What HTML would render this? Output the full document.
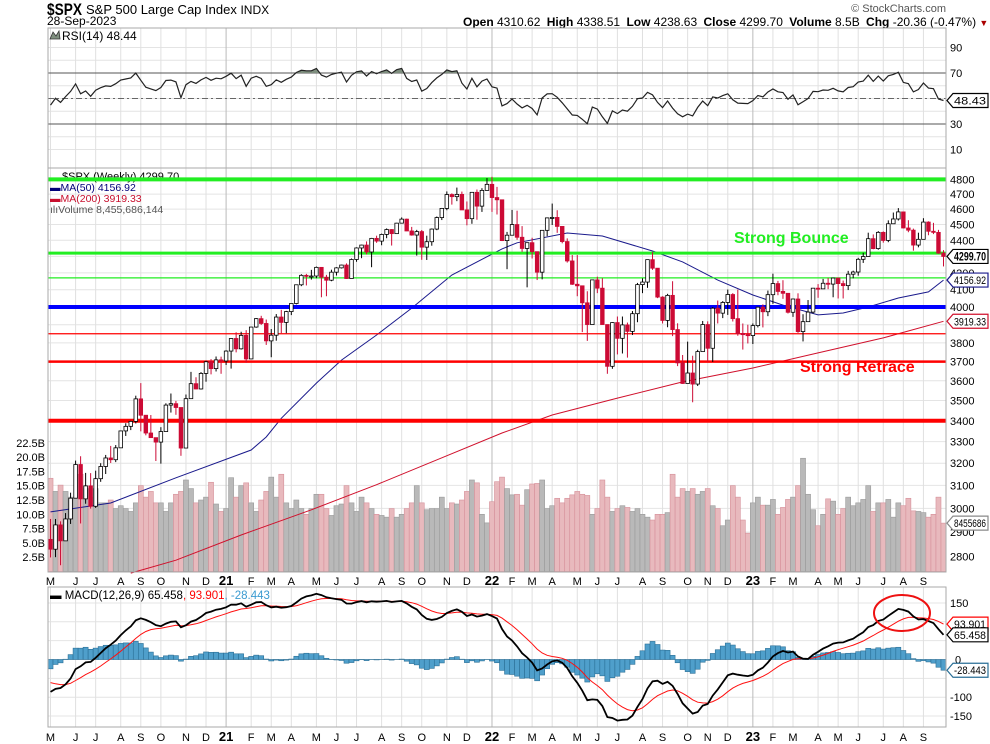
<!DOCTYPE html>
<html><head><meta charset="utf-8">
<style>
html,body{margin:0;padding:0;background:#fff;}
svg{display:block;font-family:"Liberation Sans",sans-serif;}
</style></head>
<body>
<svg id="chart" width="990" height="744" viewBox="0 0 990 744" xmlns="http://www.w3.org/2000/svg">
<rect x="0" y="0" width="990" height="744" fill="#fff"/>
<g>
<text x="47" y="15" font-size="17" font-weight="bold" textLength="35" lengthAdjust="spacingAndGlyphs">$SPX</text>
<text x="86" y="14" font-size="13">S&amp;P 500 Large Cap Index <tspan font-size="12">INDX</tspan></text>
<text x="47" y="25" font-size="12">28-Sep-2023</text>
<text x="946" y="12" font-size="11" fill="#555" text-anchor="end">© StockCharts.com</text>
<text x="463" y="26" font-size="12"><tspan font-weight="bold">Open</tspan> 4310.62 <tspan font-weight="bold" dx="3">High</tspan> 4338.51 <tspan font-weight="bold" dx="3">Low</tspan> 4238.63 <tspan font-weight="bold" dx="3">Close</tspan> 4299.70 <tspan font-weight="bold" dx="3">Volume</tspan> 8.5B <tspan font-weight="bold" dx="3">Chg</tspan> -20.36 (-0.47%) <tspan fill="#a00" font-size="9">▼</tspan></text>
</g>
<g id="grid"></g>
<g id="rsi"></g>
<g id="price"></g>
<g id="macd"></g>
<g id="axes"></g>
</svg>
<script>
const opens0 = [2870];
const closes = [2830,2930,2864,2955,3044,3194,3041,3098,3009,3130,3185,3224,3216,3271,3351,3373,3397,3508,3427,3341,3319,3298,3348,3477,3484,3465,3270,3509,3585,3558,3638,3699,3663,3709,3703,3756,
3824,3768,3841,3714,3887,3934,3907,3811,3842,3943,3913,3974,4020,4129,4185,4180,4181,4233,4174,4156,4204,4230,4247,4166,4281,4352,4370,4327,4412,4395,4437,4468,4442,4509,4535,4459,4433,4455,4357,4391,4471,4545,4605,4697,4683,4698,4595,4538,4712,4620,4725,4766,
4677,4662,4398,4432,4500,4419,4349,4385,4329,4204,4463,4543,4546,4488,4392,4272,4132,4123,4024,3901,4158,4109,3901,3675,3912,3825,3899,3863,3962,4130,4145,4280,4228,4057,3924,4067,3873,3693,3586,3640,3583,3753,3901,3771,3993,3965,4026,4072,3934,3852,3845,3840,
3895,3999,3973,4071,4136,4090,4079,3970,4046,3862,3917,3971,4109,4105,4138,4133,4169,4136,4124,4192,4205,4282,4299,4410,4348,4450,4399,4505,4536,4582,4478,4464,4370,4406,4516,4457,4450,4320,4299.7];
const highs = [2955,2955,2945,2980,3068,3212,3232,3156,3155,3166,3200,3238,3280,3284,3352,3388,3400,3524,3588,3425,3428,3314,3369,3486,3535,3498,3342,3530,3646,3618,3645,3705,3713,3727,3726,3760,
3826,3858,3861,3870,3888,3937,3950,3929,3876,3960,3984,3978,4020,4130,4192,4194,4218,4238,4204,4188,4219,4234,4249,4257,4287,4356,4372,4393,4415,4429,4442,4475,4470,4511,4546,4538,4485,4466,4465,4429,4475,4552,4608,4718,4705,4744,4717,4651,4713,4731,4740,4809,
4818,4749,4614,4453,4595,4590,4490,4385,4416,4299,4465,4546,4637,4593,4471,4412,4308,4308,4122,4091,4159,4177,4168,3838,3914,3946,3946,3912,3977,4140,4167,4281,4326,4218,4062,4076,4150,3908,3735,3807,3731,3763,3921,3919,4000,4037,4034,4101,4080,4101,3907,3900,
3907,4001,4015,4095,4195,4152,4156,4049,4048,4079,3959,4040,4110,4133,4164,4170,4170,4150,4154,4212,4213,4291,4322,4448,4437,4458,4456,4527,4578,4607,4584,4528,4474,4448,4541,4521,4511,4466,4338.51];
const lows = [2797,2798,2766,2902,2934,3044,2936,3020,2999,3002,3116,3151,3201,3205,3279,3327,3355,3387,3349,3330,3323,3210,3198,3355,3440,3429,3234,3279,3538,3556,3555,3595,3633,3648,3636,3682,
3663,3749,3764,3694,3725,3883,3899,3789,3723,3812,3853,3853,3954,4015,4121,4125,4160,4168,4056,4062,4150,4184,4226,4164,4175,4267,4289,4312,4234,4384,4369,4413,4367,4440,4513,4458,4429,4305,4279,4278,4366,4464,4529,4593,4630,4653,4595,4495,4505,4531,4582,4728,
4582,4565,4395,4222,4433,4403,4328,4114,4287,4157,4161,4426,4497,4447,4381,4262,4128,4062,3859,3811,3903,4080,3900,3636,3662,3738,3743,3721,3843,3914,4080,4111,4218,4051,3907,3886,3837,3676,3584,3600,3491,3573,3759,3699,3698,3907,3937,3955,3918,3839,3764,3797,
3794,3885,3885,3948,4018,4068,4047,3963,3944,3855,3808,3918,3963,4053,4106,4103,4056,4049,4049,4098,4167,4183,4260,4297,4344,4341,4385,4388,4513,4526,4475,4451,4335,4356,4433,4432,4439,4316,4238.63];
const volumes = [16.3,14,15.1,14,13,12.8,17,14.5,13,14.5,12,12,12.5,11,11.5,11,10.5,12,15,13,14,12,12,10.5,12,13.5,14,16,14.5,12,12.5,13,15.6,11.8,10.5,11,
16.4,13,15,15.5,12,10.5,12.5,14,16.5,13,17,12,11,12.5,11,10,11,13.5,13.5,11,9.8,11.5,11.8,15,12,10.5,13,12,11,10,9.8,9.5,11,9.5,10,11,12,15,12,10.8,11,11,13,11,12,11.8,12.5,14,16,15.5,10,8.5,
12.2,15.7,16.5,14.5,13.4,13.5,11.6,14.3,15.3,15.4,16,11,11.5,12.8,12,12.8,13.4,14,13.5,13.3,10,11,16,13,10.5,11,11.5,11.2,10.5,11,10,9.5,9,10,10,10.3,17,13,14.5,14,14.5,13.5,14,14.5,11.5,11,8,9,15,13,9,6.7,
12,13,11.6,11.6,12.6,10,11.2,12.6,13,15,19.8,13.5,10.8,8,10,12.7,12.3,10,11,13,11.5,12,12.6,15,10.5,12,12,12.6,9.5,12,11.5,12.8,10.6,10.5,10.3,9.5,10,13,8.46];
const ma50Weeks = [0,12,25,40,43,46,53,58,65,72,80,90,93,103,110,120,126,133,140,146,153,158,163,169,175,178];
const ma50Values = [2985,3023,3134,3261,3322,3412,3588,3708,3843,3994,4187,4346,4384,4446,4427,4333,4266,4157,4069,4011,3955,3966,4000,4052,4087,4156.92];
const ma200Weeks = [16,25,38,52,65,78,90,100,113,126,140,153,166,178];
const ma200Values = [2735,2786,2888,2994,3103,3225,3341,3428,3512,3594,3666,3746,3827,3919.33];
const levelPrices = [4800,4320,4170,4000,3850,3700,3400];
const levelColors = ['#22ee22','#22ee22','#22ee22','#0000ff','#ff0000','#ff0000','#ff0000'];
const levelWidths = [4,3,1.2,4,1.2,2.5,4];
const priceTicks = [2800,2900,3000,3100,3200,3300,3400,3500,3600,3700,3800,4000,4100,4200,4400,4500,4600,4700,4800];
const volTicks = [2.5,5,7.5,10,12.5,15,17.5,20,22.5];
const volTickLabels = ['2.5B','5.0B','7.5B','10.0B','12.5B','15.0B','17.5B','20.0B','22.5B'];
const rsiTicks = [90,70,30,10];
const macdTicks = [150,100,0,-100,-150];

const NS='http://www.w3.org/2000/svg';
const L=48,R=946,N=closes.length,W=(R-L)/N;
const X=i=>L+(i+0.5)*W;
const PY=p=>307-700*Math.log(p/4000);
const VY=v=>571.5-v*5.72;
const RY=v=>124-(v-30)*1.275;
const MY=v=>659.5-v*0.377;
function el(parent,tag,attrs,text){const e=document.createElementNS(NS,tag);for(const k in attrs)e.setAttribute(k,attrs[k]);if(text!==undefined)e.textContent=text;parent.appendChild(e);return e;}
const gGrid=document.getElementById('grid'),gRsi=document.getElementById('rsi'),gPrice=document.getElementById('price'),gMacd=document.getElementById('macd'),gAx=document.getElementById('axes');
const opens=closes.map((c,i)=>i===0?opens0[0]:closes[i-1]);

const panels=[[28,168],[168,572],[587,727]];
const months=[];let prevM=-1;
for(let i=0;i<N;i++){const d=new Date(2020,4,1+7*i);const m=d.getMonth();if(m!==prevM){months.push({i:i,m:m,y:d.getFullYear()});prevM=m;}}
const MN='JFMAMJJASOND';
for(let v=10;v<=90;v+=10){const g=el(gGrid,'line',{x1:L,x2:R,y1:RY(v),y2:RY(v),stroke:'#e4e4e4'});}
for(let p=2800;p<=4800;p+=100){const g=el(gGrid,'line',{x1:L,x2:R,y1:PY(p),y2:PY(p),stroke:'#e4e4e4'});}
for(let v=-150;v<=150;v+=50){const g=el(gGrid,'line',{x1:L,x2:R,y1:MY(v),y2:MY(v),stroke:'#e4e4e4'});}
months.forEach(o=>{const x=X(o.i);const yr=o.m===0;panels.forEach(p=>{const g=el(gGrid,'line',{x1:x,x2:x,y1:p[0],y2:p[1],stroke:yr?'#bbbbbb':'#e0e0e0'});});
 [585,741].forEach(y=>{const t=el(gAx,'text',{x:x,y:y,'font-size':yr?13:11,'font-weight':yr?'bold':'normal','text-anchor':'middle'},yr?String(o.y).slice(2):MN[o.m]);});});

let ag=35,al=40;const rsi=[];
for(let i=0;i<N;i++){const ch=i===0?closes[0]-2870:closes[i]-closes[i-1];ag=(ag*13+Math.max(ch,0))/14;al=(al*13+Math.max(-ch,0))/14;rsi.push(100-100/(1+ag/al));}
[[70,'#555','none'],[30,'#555','none'],[50,'#666','6,3,2,3']].forEach(a=>{const g=el(gRsi,'line',{x1:L,x2:R,y1:RY(a[0]),y2:RY(a[0]),stroke:a[1],'stroke-dasharray':a[2]});});
const rpts=rsi.map((v,i)=>X(i)+','+RY(v).toFixed(1)).join(' ');
const cp=el(gRsi,'clipPath',{id:'ob'});
el(cp,'rect',{x:L,y:28,width:R-L,height:RY(70)-28});
const rf=el(gRsi,'polygon',{points:X(0)+','+RY(70)+' '+rpts+' '+X(N-1)+','+RY(70),fill:'#7f8f7f','clip-path':'url(#ob)'});

const rl=el(gRsi,'polyline',{points:rpts,fill:'none',stroke:'#222','stroke-width':1.2});

const rt=el(gRsi,'text',{x:62,y:40,'font-size':12},'RSI(14) '+rsi[N-1].toFixed(2));

el(gRsi,'path',{d:'M50 39 L53 32 L56 36 L59 31 L60 39 Z',fill:'#7f8f7f',stroke:'#333','stroke-width':0.8});

for(let i=0;i<N;i++){const up=i===0?false:closes[i]>=closes[i-1];const b=el(gPrice,'rect',{x:L+i*W,y:VY(volumes[i]),width:W,height:571.5-VY(volumes[i]),fill:up?'#b9b9b9':'#e8b9bd',stroke:up?'#9a9a9a':'#d6909a','stroke-width':0.6});
}
const m2=el(gPrice,'polyline',{points:ma200Weeks.map((w,k)=>X(w)+','+PY(ma200Values[k]).toFixed(1)).join(' '),fill:'none',stroke:'#d0102c','stroke-width':1});

const m5=el(gPrice,'polyline',{points:ma50Weeks.map((w,k)=>X(w)+','+PY(ma50Values[k]).toFixed(1)).join(' '),fill:'none',stroke:'#1a1a8c','stroke-width':1});

const lg=el(gPrice,'text',{x:62,y:180,'font-size':11},'$SPX (Weekly) 4299.70');
const l1=el(gPrice,'text',{x:50,y:191,'font-size':10.5,fill:'#00007a'},'▬MA(50) 4156.92');
const l2=el(gPrice,'text',{x:50,y:202,'font-size':10.5,fill:'#c8102e'},'▬MA(200) 3919.33');
const l3=el(gPrice,'text',{x:50,y:213,'font-size':10.5,fill:'#555'},'ılıVolume 8,455,686,144');
levelPrices.forEach((p,k)=>{const ln=el(gPrice,'line',{x1:L,x2:R,y1:PY(p),y2:PY(p),stroke:levelColors[k],'stroke-width':levelWidths[k]});});
for(let i=0;i<N;i++){const o=opens[i],c=closes[i],x=X(i);const up=c>=o;const col=up?'#000':'#cc0a35';
 const wk=el(gPrice,'line',{x1:x,x2:x,y1:PY(highs[i]),y2:PY(lows[i]),stroke:col,'stroke-width':1});
 const top=PY(Math.max(o,c)),bot=PY(Math.min(o,c));
 const bd=el(gPrice,'rect',{x:x-1.8,y:top,width:3.6,height:Math.max(bot-top,1),fill:up?'#fff':'#cc0a35',stroke:col,'stroke-width':0.8});}
const sb=el(gPrice,'text',{x:734,y:243,'font-size':16,'font-weight':'bold',fill:'#22ee22'},'Strong Bounce');
const sr=el(gPrice,'text',{x:800,y:372,'font-size':16,'font-weight':'bold',fill:'#ff0000'},'Strong Retrace');

let e12=2920,e26=3005,sig=-55;const macd=[],sg=[],hist=[];
for(let i=0;i<N;i++){e12+=2/13*(closes[i]-e12);e26+=2/27*(closes[i]-e26);const m=e12-e26;sig+=0.2*(m-sig);macd.push(m);sg.push(sig);hist.push(m-sig);}
for(let i=0;i<N;i++){const y0=MY(0),y1=MY(hist[i]);const h=el(gMacd,'rect',{x:L+i*W,y:Math.min(y0,y1),width:W,height:Math.abs(y1-y0),fill:'#4f9fcb',stroke:'#2a6f96','stroke-width':0.6});}
const ms=el(gMacd,'polyline',{points:sg.map((v,i)=>X(i)+','+MY(v).toFixed(1)).join(' '),fill:'none',stroke:'#ff1010','stroke-width':1});
const ml=el(gMacd,'polyline',{points:macd.map((v,i)=>X(i)+','+MY(v).toFixed(1)).join(' '),fill:'none',stroke:'#000','stroke-width':1.8});
const mt=el(gMacd,'text',{x:50,y:599,'font-size':11.5},'');
mt.innerHTML='<tspan font-weight="bold">▬</tspan> MACD(12,26,9) 65.458<tspan fill="#ff0000">, 93.901</tspan><tspan fill="#3a9ad0">, -28.443</tspan>';
const ce=el(gMacd,'ellipse',{cx:902,cy:613,rx:28,ry:18,fill:'none',stroke:'#ee1111','stroke-width':2});

panels.forEach(p=>{const b=el(gAx,'rect',{x:L,y:p[0],width:R-L,height:p[1]-p[0],fill:'none',stroke:'#aaa'});});
rsiTicks.forEach(v=>{const t=el(gAx,'text',{x:950,y:RY(v)+4,'font-size':11},v);});
priceTicks.forEach(p=>{const t=el(gAx,'text',{x:950,y:PY(p)+4,'font-size':11},p);});
volTicks.forEach((v,k)=>{const t=el(gAx,'text',{x:45,y:VY(v)+4,'font-size':11,'text-anchor':'end'},volTickLabels[k]);});
macdTicks.forEach(v=>{const t=el(gAx,'text',{x:v===0?955:950,y:MY(v)+4,'font-size':11},v);});
function tag(y,txt,col,bold,name){const g=el(gAx,'g',{});
 el(g,'polygon',{points:`947,${y} 953,${y-7} 988,${y-7} 988,${y+7} 953,${y+7}`,fill:'#fff',stroke:col,'stroke-width':1.2});
 el(g,'text',{x:954,y:y+4,'font-size':bold?12:11,'font-weight':bold?'bold':'normal',textLength:32,lengthAdjust:'spacingAndGlyphs',fill:'#000'},txt);}
tag(RY(rsi[N-1]),'48.43','#000',false,'rsi-value-tag');
tag(PY(closes[N-1]),'4299.70','#000',true,'price-value-tag');
tag(PY(ma50Values[ma50Values.length-1]),'4156.92','#1a1a8c',false,'ma50-value-tag');
tag(PY(ma200Values[ma200Values.length-1]),'3919.33','#d0102c',false,'ma200-value-tag');
tag(VY(volumes[N-1]),'8455686','#888',false,'volume-value-tag');
tag(MY(93.901),'93.901','#ff0000',false,'signal-value-tag');
tag(MY(65.458),'65.458','#000',false,'macd-value-tag');
tag(MY(-28.443),'-28.443','#2a6f96',false,'histogram-value-tag');
</script>
</body></html>
